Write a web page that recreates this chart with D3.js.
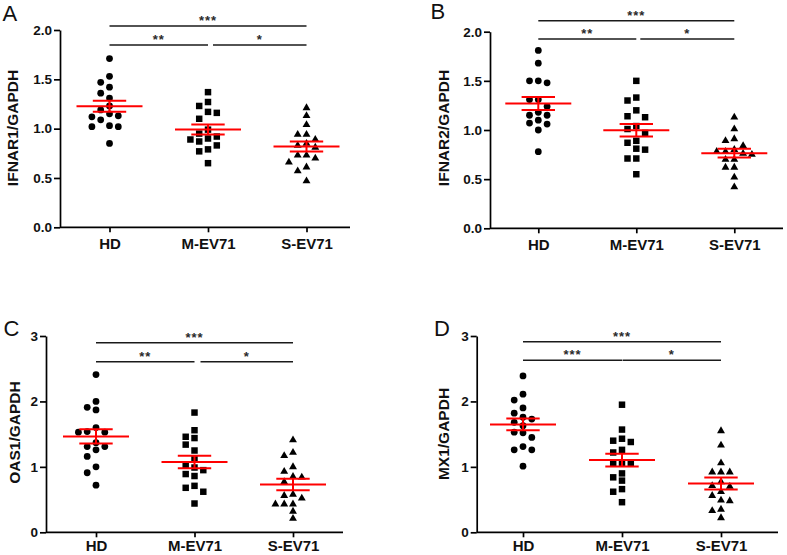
<!DOCTYPE html>
<html>
<head>
<meta charset="utf-8">
<script src="https://cdn.jsdelivr.net/npm/d3@7"></script>
<style>
  html, body { margin: 0; padding: 0; background: #fff; }
  svg { display: block; font-family: "Liberation Sans", Arial, sans-serif; }
</style>
</head>
<body>
<svg id="chart" width="787" height="555"></svg>
<script>
// ---------------- data ----------------
const categories = ["HD", "M-EV71", "S-EV71"];
const panelLetters = ["A", "B", "C", "D"];
const yLabels = ["IFNAR1/GAPDH", "IFNAR2/GAPDH", "OAS1/GAPDH", "MX1/GAPDH"];
const yTicksAB = [0, 0.5, 1.0, 1.5, 2.0];
const yTicksCD = [0, 1, 2, 3];

const ifnar1HD = [1.71, 1.53, 1.47, 1.42, 1.36, 1.31, 1.23, 1.19, 1.09, 1.15, 1.12, 1.13, 1.02, 1.02, 1.03, 0.85];
const ifnar1M  = [1.37, 1.27, 1.23, 1.17, 1.16, 1.10, 0.99, 0.95, 0.92, 0.90, 0.87, 0.89, 0.83, 0.79, 0.77, 0.65];
const ifnar1S  = [1.21, 1.13, 1.04, 0.94, 0.94, 0.89, 0.85, 0.83, 0.81, 0.73, 0.70, 0.73, 0.66, 0.61, 0.57, 0.47];

const ifnar2HD = [1.81, 1.68, 1.50, 1.48, 1.50, 1.31, 1.31, 1.24, 1.18, 1.15, 1.10, 1.15, 1.06, 1.07, 1.00, 0.78];
const ifnar2M  = [1.50, 1.33, 1.30, 1.20, 1.13, 1.14, 1.01, 0.97, 1.04, 0.89, 0.87, 0.81, 0.80, 0.71, 0.71, 0.55];
const ifnar2S  = [1.13, 1.01, 0.91, 0.89, 0.84, 0.78, 0.76, 0.75, 0.78, 0.80, 0.70, 0.70, 0.62, 0.62, 0.52, 0.42];

const oas1HD = [2.41, 2.00, 1.91, 1.87, 1.60, 1.53, 1.54, 1.53, 1.37, 1.31, 1.31, 1.26, 1.16, 1.00, 0.91, 0.72];
const oas1M  = [1.83, 1.56, 1.46, 1.44, 1.34, 1.25, 1.12, 1.03, 0.99, 0.95, 0.89, 0.86, 0.68, 0.71, 0.62, 0.44];
const oas1S  = [1.41, 1.22, 1.17, 1.00, 0.93, 0.84, 0.85, 0.77, 0.58, 0.56, 0.52, 0.43, 0.43, 0.43, 0.32, 0.21];

const mx1HD = [2.39, 2.11, 2.02, 1.90, 1.82, 1.76, 1.73, 1.68, 1.63, 1.53, 1.52, 1.45, 1.26, 1.26, 1.31, 1.01];
const mx1M  = [1.95, 1.57, 1.40, 1.38, 1.43, 1.26, 1.22, 1.06, 1.06, 1.06, 0.90, 0.84, 0.79, 0.66, 0.62, 0.46];
const mx1S  = [1.55, 1.33, 1.06, 0.92, 0.92, 0.92, 0.71, 0.77, 0.70, 0.62, 0.56, 0.49, 0.48, 0.35, 0.33, 0.22];

// significance comparisons: [from, to, label]
const sigABC = [["HD", "S-EV71", "***"], ["HD", "M-EV71", "**"], ["M-EV71", "S-EV71", "*"]];
const sigD   = [["HD", "S-EV71", "***"], ["HD", "M-EV71", "***"], ["M-EV71", "S-EV71", "*"]];

const panels = [
  { letter: panelLetters[0], label: yLabels[0], groups: [ifnar1HD, ifnar1M, ifnar1S], ticks: yTicksAB, sig: sigABC, fmt: ".1f" },
  { letter: panelLetters[1], label: yLabels[1], groups: [ifnar2HD, ifnar2M, ifnar2S], ticks: yTicksAB, sig: sigABC, fmt: ".1f" },
  { letter: panelLetters[2], label: yLabels[2], groups: [oas1HD, oas1M, oas1S], ticks: yTicksCD, sig: sigABC, fmt: "d" },
  { letter: panelLetters[3], label: yLabels[3], groups: [mx1HD, mx1M, mx1S], ticks: yTicksCD, sig: sigD, fmt: "d" }
];

// ---------------- layout ----------------
const layouts = [
  { ax: 60,    right: 350, top: 30,   bottom: 227.3, c0: 109.5, c2: 306.5, lx: 2.5,   ly: 20.7,  labX: 12.5, labY: 128,   sigTop: 26,    sigLow: 45,    gap: 5,   xpad: 6 },
  { ax: 490,   right: 783, top: 31.7, bottom: 228.3, c0: 538.3, c2: 734.3, lx: 430.5, ly: 18.5,  labX: 444,  labY: 128,   sigTop: 20.7,  sigLow: 39,    gap: 4,   xpad: 6 },
  { ax: 46,    right: 343, top: 336,  bottom: 532.3, c0: 96,    c2: 293,   lx: 3.5,   ly: 335.7, labX: 15,   labY: 432.5, sigTop: 342.7, sigLow: 361.7, gap: 6,   xpad: 3.5 },
  { ax: 476.7, right: 778, top: 336,  bottom: 532.3, c0: 523,   c2: 721,   lx: 434,   ly: 335.7, labX: 444,  labY: 434,   sigTop: 341.7, sigLow: 360.3, gap: 0.5, xpad: 3.5 }
];

const svg = d3.select("#chart");
const symbols = [d3.symbolCircle, d3.symbolSquare, d3.symbolTriangle];
const symbolSizes = [36, 42, 27];
const slotStep = 8.8;

function swarmSlots(values, y, minGap) {
  const order = values.map((v, i) => ({ i, py: y(v) })).sort((a, b) => a.py - b.py);
  const placed = [];
  const out = new Array(values.length).fill(0);
  for (const p of order) {
    for (let k = 0; k < 30; k++) {
      const slot = k === 0 ? 0 : (k % 2 ? -Math.ceil(k / 2) : Math.ceil(k / 2));
      if (!placed.some(q => q.slot === slot && Math.abs(q.py - p.py) < minGap)) {
        placed.push({ slot, py: p.py });
        out[p.i] = slot;
        break;
      }
    }
  }
  return out;
}

panels.forEach((P, pi) => {
  const L = layouts[pi];
  const g = svg.append("g");
  const ymax = d3.max(P.ticks);
  const y = d3.scaleLinear().domain([0, ymax]).range([L.bottom, L.top]);
  const x = d3.scalePoint().domain(categories).range([L.c0, L.c2]);

  // y axis
  const yAxis = d3.axisLeft(y).tickValues(P.ticks).tickSize(6).tickSizeOuter(0).tickPadding(2)
    .tickFormat(d3.format(P.fmt));
  const yg = g.append("g").attr("transform", `translate(${L.ax},0)`).call(yAxis);
  yg.attr("font-family", null).attr("font-size", null);
  yg.select(".domain").attr("stroke", "#000").attr("stroke-width", 1.7);
  yg.selectAll(".tick line").attr("stroke", "#000").attr("stroke-width", 1.7);
  yg.selectAll(".tick text").attr("font-size", 13.5).attr("font-weight", "bold").attr("fill", "#111");

  // x axis
  const xAxis = d3.axisBottom(x).tickSize(5).tickSizeOuter(0).tickPadding(L.xpad);
  const xg = g.append("g").attr("transform", `translate(0,${L.bottom})`).call(xAxis);
  xg.attr("font-family", null).attr("font-size", null);
  xg.select(".domain").remove();
  xg.selectAll(".tick line").attr("stroke", "#000").attr("stroke-width", 1.7);
  xg.selectAll(".tick text").attr("font-size", 15).attr("font-weight", "bold").attr("fill", "#111");
  g.append("line").attr("x1", L.ax).attr("x2", L.right).attr("y1", L.bottom).attr("y2", L.bottom)
    .attr("stroke", "#000").attr("stroke-width", 1.7);

  // y label
  g.append("text").attr("transform", `translate(${L.labX},${L.labY}) rotate(-90)`)
    .attr("text-anchor", "middle").attr("dy", "0.35em")
    .attr("font-size", 15.5).attr("font-weight", "bold").attr("fill", "#111").text(P.label);

  // panel letter
  g.append("text").attr("x", L.lx).attr("y", L.ly).attr("font-size", 22).attr("fill", "#111").text(P.letter);

  // points
  P.groups.forEach((vals, gi) => {
    const slots = swarmSlots(vals, y, 7);
    const cx = x(categories[gi]);
    g.append("g").selectAll("path").data(vals).join("path")
      .attr("d", d3.symbol().type(symbols[gi]).size(symbolSizes[gi]))
      .attr("transform", (d, i) => `translate(${cx + slots[i] * slotStep},${y(d)})`)
      .attr("fill", "#000");
  });

  // mean ± SEM
  P.groups.forEach((vals, gi) => {
    const m = d3.mean(vals);
    const sem = d3.deviation(vals) / Math.sqrt(vals.length);
    const cx = x(categories[gi]);
    const r = g.append("g").attr("stroke", "#ff0000").attr("stroke-width", 2);
    r.append("line").attr("x1", cx - 33).attr("x2", cx + 33).attr("y1", y(m)).attr("y2", y(m));
    r.append("line").attr("x1", cx - 16.7).attr("x2", cx + 16.7).attr("y1", y(m + sem)).attr("y2", y(m + sem));
    r.append("line").attr("x1", cx - 16.7).attr("x2", cx + 16.7).attr("y1", y(m - sem)).attr("y2", y(m - sem));
    r.append("line").attr("x1", cx).attr("x2", cx).attr("y1", y(m + sem)).attr("y2", y(m - sem));
  });

  // significance bars
  P.sig.forEach(([a, b, lab], si) => {
    const level = si === 0 ? L.sigTop : L.sigLow;
    let x1 = x(a), x2 = x(b);
    if (a === "M-EV71") x1 += L.gap;
    g.append("line").attr("x1", x1).attr("x2", x2).attr("y1", level).attr("y2", level)
      .attr("stroke", "#1a1a1a").attr("stroke-width", 1.6);
    g.append("text").attr("x", (x1 + x2) / 2).attr("y", level - 1)
      .attr("text-anchor", "middle").attr("font-size", 13).attr("letter-spacing", 1)
      .attr("font-weight", "bold").attr("fill", "#2a2a2a").text(lab);
  });
});
</script>
</body>
</html>
